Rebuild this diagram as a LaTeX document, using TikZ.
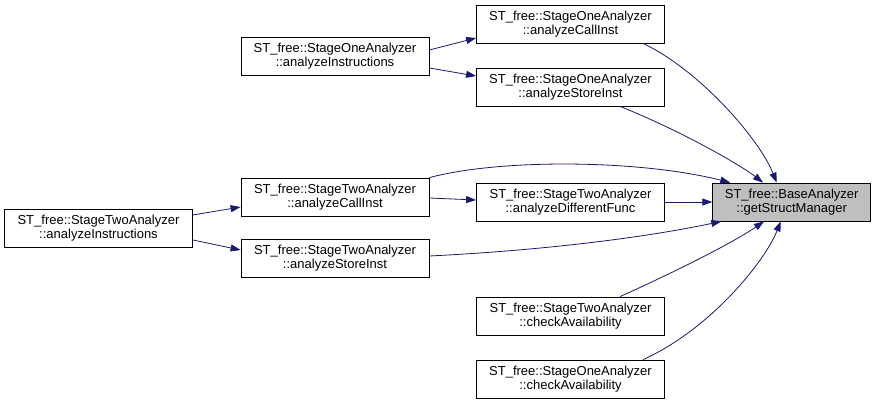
\documentclass[tikz,border=0pt]{standalone}
\usepackage{fontspec}
\setmainfont{Liberation Sans}
\usetikzlibrary{arrows.meta,positioning}
\definecolor{edgeblue}{HTML}{191970}
\definecolor{hilite}{HTML}{BFBFBF}

\begin{document}
\begin{tikzpicture}[x=1pt,y=-1pt,
  fn/.style={draw,line width=0.8pt,minimum width=188pt,minimum height=38pt,inner sep=0pt,align=center,font=\fontsize{13}{14}\selectfont},
  call/.style={draw=edgeblue,line width=0.8pt,-{Triangle[length=10pt,width=7pt]}}]
\useasboundingbox (0,0) rectangle (877,404);
\node[fn] (twoInstr) at (98.5,228) {ST\_free::StageTwoAnalyzer\\::analyzeInstructions};
\node[fn] (oneInstr) at (335,56) {ST\_free::StageOneAnalyzer\\::analyzeInstructions};
\node[fn] (twoCall) at (335,197) {ST\_free::StageTwoAnalyzer\\::analyzeCallInst};
\node[fn] (twoStore) at (335,258) {ST\_free::StageTwoAnalyzer\\::analyzeStoreInst};
\node[fn] (oneCall) at (570.5,24) {ST\_free::StageOneAnalyzer\\::analyzeCallInst};
\node[fn] (oneStore) at (570.5,87) {ST\_free::StageOneAnalyzer\\::analyzeStoreInst};
\node[fn] (diffFunc) at (570.5,202) {ST\_free::StageTwoAnalyzer\\::analyzeDifferentFunc};
\node[fn] (twoCheck) at (570.5,316) {ST\_free::StageTwoAnalyzer\\::checkAvailability};
\node[fn] (oneCheck) at (570.5,379) {ST\_free::StageOneAnalyzer\\::checkAvailability};
\node[fn,fill=hilite,minimum width=158pt] (target) at (791.7,202) {ST\_free::BaseAnalyzer\\::getStructManager};
\draw[call] ([yshift=6pt]oneInstr.east) -- ([yshift=-14pt]oneCall.west);
\draw[call] ([yshift=-12pt]oneInstr.east) -- ([yshift=11pt]oneStore.west);
\draw[call] ([yshift=13pt]twoInstr.east) -- ([yshift=-10pt]twoCall.west);
\draw[call] ([yshift=-12pt]twoInstr.east) -- ([yshift=8pt]twoStore.west);
\draw[call] ([yshift=-1pt]twoCall.east) -- ([yshift=2pt]diffFunc.west);
\draw[call] (diffFunc.east) -- (target.west);
\draw[call] ([xshift=72.5pt]oneCall.south) .. controls +(57,27) and +(-17,-43) .. ([xshift=-15pt]target.north);
\draw[call] ([xshift=49.5pt]oneStore.south) .. controls +(60,24) and +(-23,-18) .. ([xshift=-28.7pt]target.north);
\draw[call] (twoCall.north east) .. controls +(71,-19) and +(-91,-23) .. ([xshift=18pt]target.north west);
\draw[call] ([yshift=2pt]twoStore.east) .. controls +(121,-6) and +(-71,15) .. ([xshift=9pt]target.south west);
\draw[call] ([xshift=49.5pt]twoCheck.north) .. controls +(60,-27) and +(-29,20) .. ([xshift=-27.7pt]target.south);
\draw[call] ([xshift=72.5pt]oneCheck.north) .. controls +(67,-30) and +(-15.7,40) .. ([xshift=-11pt]target.south);
\end{tikzpicture}
\end{document}
